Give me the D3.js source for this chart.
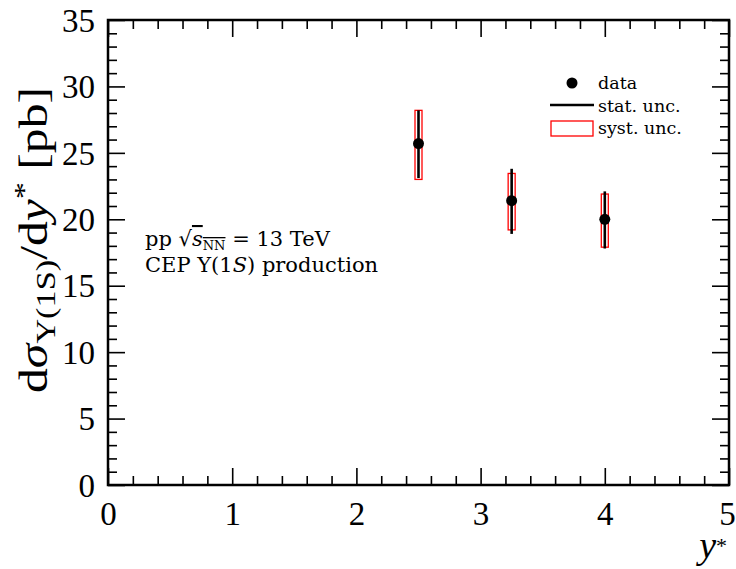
<!DOCTYPE html>
<html><head><meta charset="utf-8">
<script src="https://cdn.jsdelivr.net/npm/d3@7"></script>
<style>body{margin:0;background:#fff}svg{display:block}</style>
</head><body><div id="chart"></div>
<script>
const xVals = [2.5, 3.25, 4.0];
const yVals = [25.7, 21.4, 20.0];
const statLo = [23.1, 18.9, 17.8];
const statHi = [28.2, 23.8, 22.1];
const systLo = [23.0, 19.2, 17.9];
const systHi = [28.2, 23.45, 21.9];
const xTicks = [0, 1, 2, 3, 4, 5];
const yTicks = [0, 5, 10, 15, 20, 25, 30, 35];
const legendLabels = ["data", "stat. unc.", "syst. unc."];

const SERIF = "'Liberation Serif', 'Times New Roman', serif";
const WIDE = "'DejaVu Serif', serif";
const W = 736, H = 569;
const m = {l:108, r:7, t:20, b:84};
const svg = d3.select("#chart").append("svg").attr("width", W).attr("height", H)
  .attr("font-family", SERIF);
const x = d3.scaleLinear().domain([0,5]).range([m.l, W - m.r]);
const y = d3.scaleLinear().domain([0,35]).range([H - m.b, m.t]);
const iw = W - m.l - m.r, ih = H - m.t - m.b;

const xMinor = d3.range(0, 5.001, 0.2).filter(v => Math.abs(v - Math.round(v)) > 1e-6);
const yMinor = d3.range(0, 35.001, 1).filter(v => v % 5 !== 0);

function drawAxis(axisFn, scale, transform, major, minor, showLabels, pad) {
  const g1 = svg.append("g").attr("transform", transform)
    .call(axisFn(scale).tickValues(major).tickSize(-17).tickPadding(pad)
      .tickFormat(showLabels ? d3.format("d") : () => ""));
  const g2 = svg.append("g").attr("transform", transform)
    .call(axisFn(scale).tickValues(minor).tickSize(-9).tickFormat(() => ""));
  [g1, g2].forEach(g => {
    g.attr("font-family", SERIF);
    g.select(".domain").remove();
    g.selectAll(".tick line").attr("stroke", "#000").attr("stroke-width", 1.6);
  });
  return g1;
}
const gx = drawAxis(d3.axisBottom, x, `translate(0,${H - m.b})`, xTicks, xMinor, true, 17);
gx.selectAll(".tick text").attr("font-size", 33).attr("dy", "0.71em").attr("fill", "#000")
  .attr("dx", d => d === 5 ? -2 : 0)
  .style("font-family", SERIF);
drawAxis(d3.axisTop, x, `translate(0,${m.t})`, xTicks, xMinor, false, 0);
const gy = drawAxis(d3.axisLeft, y, `translate(${m.l},0)`, yTicks, yMinor, true, 0);
gy.selectAll(".tick text").attr("font-size", 33).attr("dy", "0.34em").attr("x", -13).attr("fill", "#000")
  .style("font-family", SERIF);
drawAxis(d3.axisRight, y, `translate(${W - m.r},0)`, yTicks, yMinor, false, 0);

svg.append("rect").attr("x", m.l).attr("y", m.t).attr("width", iw).attr("height", ih)
  .attr("fill", "none").attr("stroke", "#000").attr("stroke-width", 2.5);

// data
const pts = xVals.map((v, i) => ({x: v, y: yVals[i], sl: statLo[i], sh: statHi[i], yl: systLo[i], yh: systHi[i]}));
const bw = 7;
svg.append("g").selectAll("rect").data(pts).join("rect")
  .attr("x", d => x(d.x) - bw/2).attr("y", d => y(d.yh))
  .attr("width", bw).attr("height", d => y(d.yl) - y(d.yh))
  .attr("fill", "none").attr("stroke", "#ff0000").attr("stroke-width", 1.3);
svg.append("g").selectAll("line").data(pts).join("line")
  .attr("x1", d => x(d.x)).attr("x2", d => x(d.x))
  .attr("y1", d => y(d.sh)).attr("y2", d => y(d.sl))
  .attr("stroke", "#000").attr("stroke-width", 2.6);
svg.append("g").selectAll("circle").data(pts).join("circle")
  .attr("cx", d => x(d.x)).attr("cy", d => y(d.y)).attr("r", 5.5).attr("fill", "#000");

// legend
const lg = svg.append("g");
lg.append("circle").attr("cx", 572).attr("cy", 83).attr("r", 5.5).attr("fill", "#000");
lg.append("line").attr("x1", 550).attr("x2", 594).attr("y1", 105).attr("y2", 105).attr("stroke", "#000").attr("stroke-width", 2.6);
lg.append("rect").attr("x", 551).attr("y", 121).attr("width", 42).attr("height", 15).attr("fill", "none").attr("stroke", "#ff0000").attr("stroke-width", 1.3);
legendLabels.forEach((t, i) => {
  lg.append("text").attr("x", 598).attr("y", 89 + i * 22.5).attr("font-size", 17.5)
    .style("font-family", WIDE).attr("fill", "#000").text(t);
});

// annotation
const a1 = svg.append("text").attr("x", 145).attr("y", 246).attr("font-size", 21).style("font-family", WIDE);
a1.append("tspan").text("pp ");
a1.append("tspan").text("\u221A");
a1.append("tspan").text("s").attr("font-style", "italic").style("text-decoration", "overline");
a1.append("tspan").text("NN").attr("font-size", 13).attr("dy", 4).style("text-decoration", "overline");
a1.append("tspan").text(" = 13 TeV").attr("dy", -4);
const a2 = svg.append("text").attr("x", 145).attr("y", 272).attr("font-size", 21).style("font-family", WIDE);
a2.append("tspan").text("CEP \u03A5(1");
a2.append("tspan").text("S").attr("font-style", "italic");
a2.append("tspan").text(") production");

// y label
const yl = svg.append("text").attr("transform", `translate(47,240) rotate(-90)`)
  .attr("text-anchor", "middle").attr("font-size", 39).style("font-family", SERIF)
  .attr("textLength", 306).attr("lengthAdjust", "spacingAndGlyphs");
yl.append("tspan").text("d");
yl.append("tspan").text("\u03C3").attr("font-style", "italic");
yl.append("tspan").text("\u03A5(1S)").attr("font-size", 27).attr("dy", 8);
yl.append("tspan").text("/d").attr("dy", -8);
yl.append("tspan").text("y").attr("font-style", "italic");
yl.append("tspan").text("*").attr("font-size", 27).attr("dy", -14);
yl.append("tspan").text(" [pb]").attr("dy", 14);

// x label (y and superscript star as separate texts)
svg.append("text").attr("x", W - 20).attr("y", 558).attr("text-anchor", "end").attr("font-size", 38)
  .attr("font-style", "italic").style("font-family", SERIF).attr("fill", "#000").text("y");
svg.append("text").attr("x", W - 20).attr("y", 553).attr("text-anchor", "start").attr("font-size", 22)
  .style("font-family", SERIF).attr("fill", "#000").text("*");
</script></body></html>
